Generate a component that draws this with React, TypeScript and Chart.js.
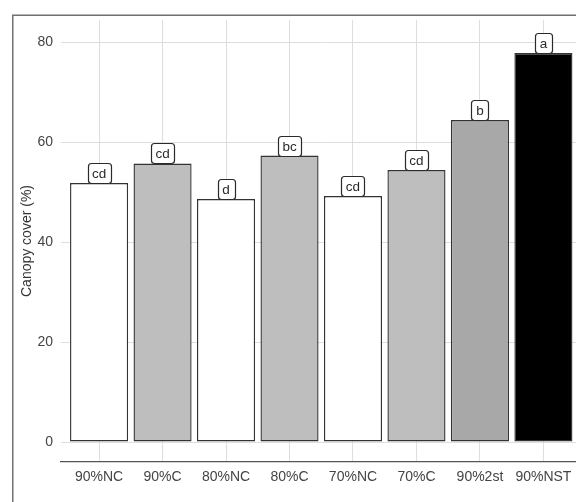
import React, { useEffect, useRef } from 'react';
import { Chart, registerables } from 'chart.js';

Chart.register(...registerables);

const categories = ['90%NC', '90%C', '80%NC', '80%C', '70%NC', '70%C', '90%2st', '90%NST'];
const cover = [51.8, 55.7, 48.6, 57.3, 49.2, 54.4, 64.4, 77.8];
const letters = ['cd', 'cd', 'd', 'bc', 'cd', 'cd', 'b', 'a'];
const fills = ['#ffffff', '#bebebe', '#ffffff', '#bebebe', '#ffffff', '#bebebe', '#a8a8a8', '#000000'];
const yTicks = [0, 20, 40, 60, 80];

const FONT = "'Liberation Sans', Arial, sans-serif";

export default function App() {
  const ref = useRef<HTMLCanvasElement>(null);

  useEffect(() => {
    if (!ref.current) return;
    const letterPlugin = {
      id: 'letterBoxes',
      beforeDraw(chart: any) {
        const ctx = chart.ctx;
        ctx.save();
        ctx.strokeStyle = '#707070';
        ctx.lineWidth = 1.5;
        ctx.strokeRect(12.75, 15.25, 1000, 1000);
        ctx.restore();
      },
      afterDatasetsDraw(chart: any) {
        const ctx = chart.ctx;
        const meta = chart.getDatasetMeta(0);
        ctx.save();
        ctx.font = `13.5px ${FONT}`;
        ctx.textAlign = 'center';
        ctx.textBaseline = 'middle';
        meta.data.forEach((bar: any, i: number) => {
          const t = letters[i];
          const w = Math.round(ctx.measureText(t).width + 9);
          const h = 20;
          const x = Math.round(bar.x - w / 2) + 0.5;
          const y = Math.round(bar.y - h) + 0.5;
          ctx.beginPath();
          ctx.roundRect(x, y, w, h, 3);
          ctx.fillStyle = '#ffffff';
          ctx.fill();
          ctx.strokeStyle = '#2a2a2a';
          ctx.lineWidth = 1.2;
          ctx.stroke();
          ctx.fillStyle = '#2a2a2a';
          ctx.fillText(t, bar.x, y + h / 2 + 0.5);
        });
        ctx.restore();
      },
    };

    const chart = new Chart(ref.current, {
      type: 'bar',
      data: {
        datasets: [
          {
            data: cover.map((v, i) => ({ x: i, y: v })),
            backgroundColor: fills,
            borderColor: '#333333',
            borderWidth: 1.4,
            borderSkipped: false,
            barPercentage: 0.915,
            categoryPercentage: 1,
          },
        ],
      },
      options: {
        responsive: false,
        animation: false,
        layout: { padding: { top: 20, right: 18.5, bottom: 0, left: 0 } },
        plugins: { legend: { display: false }, tooltip: { enabled: false } },
        scales: {
          x: {
            type: 'linear',
            offset: false,
            min: -0.6,
            max: categories.length - 0.4,
            afterBuildTicks: (s: any) => {
              s.ticks = categories.map((_, i) => ({ value: i }));
            },
            afterFit: (s: any) => {
              s.height = 40;
            },
            ticks: {
              callback: (v: any) => categories[v] ?? '',
              autoSkip: false,
              maxRotation: 0,
              minRotation: 0,
              padding: 7,
              color: '#444444',
              font: { family: FONT, size: 14 },
            },
            grid: { offset: false, color: '#dedede', lineWidth: 1, drawTicks: false },
            border: { color: '#555555', width: 1.2 },
          },
          y: {
            type: 'linear',
            min: -4,
            max: 84.4,
            afterBuildTicks: (s: any) => {
              s.ticks = yTicks.map((v) => ({ value: v }));
            },
            afterFit: (s: any) => {
              s.width = 61;
            },
            ticks: {
              padding: 8,
              color: '#444444',
              font: { family: FONT, size: 14 },
            },
            grid: { color: '#dedede', lineWidth: 1, drawTicks: false },
            border: { display: false },
            title: {
              display: true,
              text: 'Canopy cover (%)',
              color: '#333333',
              font: { family: FONT, size: 14 },
              padding: { top: 19, bottom: 0 },
            },
          },
        },
      },
      plugins: [letterPlugin],
    } as any);

    return () => chart.destroy();
  }, []);

  return (
    <div
      style={{
        position: 'fixed',
        left: 0,
        top: 0,
        width: 576,
        height: 502,
        overflow: 'hidden',
        background: '#ffffff',
      }}
    >
      <canvas ref={ref} width={600} height={502} style={{ display: 'block' }} />
    </div>
  );
}
